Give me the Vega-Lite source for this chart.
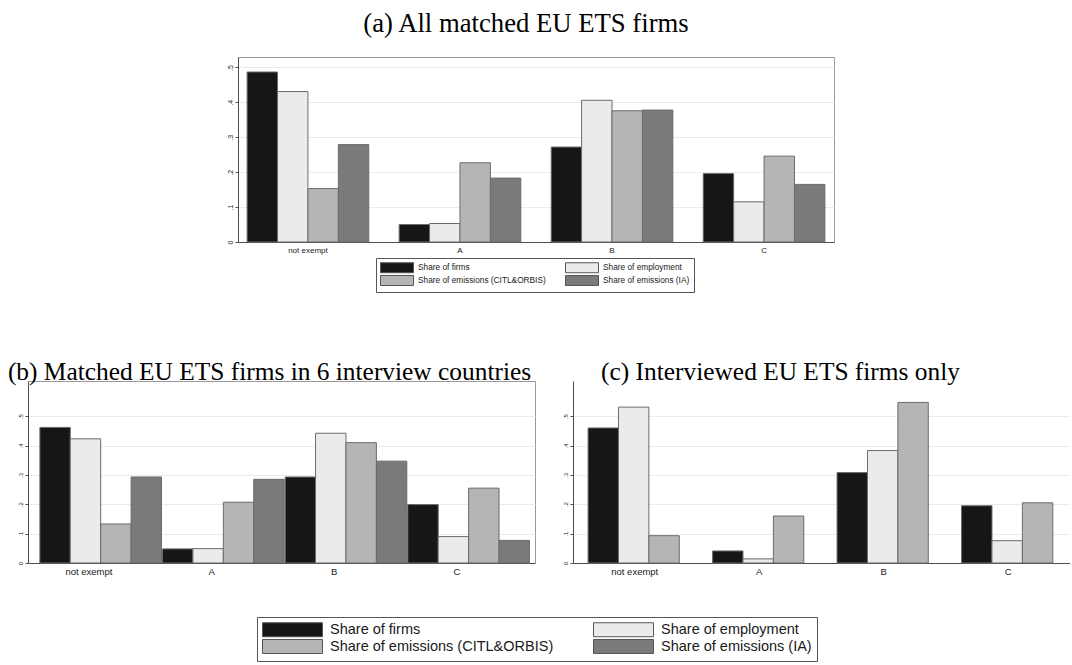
{
  "$schema": "https://vega.github.io/schema/vega-lite/v6.json",
  "background": "white",
  "padding": {"left": 7, "top": 10, "right": 0, "bottom": 0},
  "datasets": {
    "a": [
      {"group": "not exempt", "series": "Share of firms", "value": 0.487},
      {"group": "not exempt", "series": "Share of employment", "value": 0.431},
      {"group": "not exempt", "series": "Share of emissions (CITL&ORBIS)", "value": 0.153},
      {"group": "not exempt", "series": "Share of emissions (IA)", "value": 0.279},
      {"group": "A", "series": "Share of firms", "value": 0.050},
      {"group": "A", "series": "Share of employment", "value": 0.053},
      {"group": "A", "series": "Share of emissions (CITL&ORBIS)", "value": 0.227},
      {"group": "A", "series": "Share of emissions (IA)", "value": 0.183},
      {"group": "B", "series": "Share of firms", "value": 0.272},
      {"group": "B", "series": "Share of employment", "value": 0.406},
      {"group": "B", "series": "Share of emissions (CITL&ORBIS)", "value": 0.376},
      {"group": "B", "series": "Share of emissions (IA)", "value": 0.378},
      {"group": "C", "series": "Share of firms", "value": 0.196},
      {"group": "C", "series": "Share of employment", "value": 0.115},
      {"group": "C", "series": "Share of emissions (CITL&ORBIS)", "value": 0.246},
      {"group": "C", "series": "Share of emissions (IA)", "value": 0.165}
    ],
    "b": [
      {"group": "not exempt", "series": "Share of firms", "value": 0.462},
      {"group": "not exempt", "series": "Share of employment", "value": 0.423},
      {"group": "not exempt", "series": "Share of emissions (CITL&ORBIS)", "value": 0.133},
      {"group": "not exempt", "series": "Share of emissions (IA)", "value": 0.293},
      {"group": "A", "series": "Share of firms", "value": 0.048},
      {"group": "A", "series": "Share of employment", "value": 0.049},
      {"group": "A", "series": "Share of emissions (CITL&ORBIS)", "value": 0.207},
      {"group": "A", "series": "Share of emissions (IA)", "value": 0.285},
      {"group": "B", "series": "Share of firms", "value": 0.293},
      {"group": "B", "series": "Share of employment", "value": 0.442},
      {"group": "B", "series": "Share of emissions (CITL&ORBIS)", "value": 0.410},
      {"group": "B", "series": "Share of emissions (IA)", "value": 0.347},
      {"group": "C", "series": "Share of firms", "value": 0.199},
      {"group": "C", "series": "Share of employment", "value": 0.090},
      {"group": "C", "series": "Share of emissions (CITL&ORBIS)", "value": 0.255},
      {"group": "C", "series": "Share of emissions (IA)", "value": 0.077}
    ],
    "c": [
      {"group": "not exempt", "series": "Share of firms", "value": 0.460},
      {"group": "not exempt", "series": "Share of employment", "value": 0.531},
      {"group": "not exempt", "series": "Share of emissions (CITL&ORBIS)", "value": 0.093},
      {"group": "A", "series": "Share of firms", "value": 0.041},
      {"group": "A", "series": "Share of employment", "value": 0.014},
      {"group": "A", "series": "Share of emissions (CITL&ORBIS)", "value": 0.160},
      {"group": "B", "series": "Share of firms", "value": 0.308},
      {"group": "B", "series": "Share of employment", "value": 0.383},
      {"group": "B", "series": "Share of emissions (CITL&ORBIS)", "value": 0.547},
      {"group": "C", "series": "Share of firms", "value": 0.195},
      {"group": "C", "series": "Share of employment", "value": 0.076},
      {"group": "C", "series": "Share of emissions (CITL&ORBIS)", "value": 0.205}
    ]
  },
  "config": {
    "font": "Liberation Sans",
    "view": {"stroke": "#999999", "strokeWidth": 1},
    "title": {"font": "Liberation Serif", "fontWeight": "normal", "fontSize": 25.4, "color": "black", "anchor": "middle", "frame": "group"},
    "axis": {"domainColor": "#4d4d4d", "tickColor": "#4d4d4d", "labelColor": "#1a1a1a", "gridColor": "#ebebeb", "gridWidth": 1, "labelFont": "Liberation Sans"},
    "legend": {"labelFont": "Liberation Sans", "labelColor": "#1a1a1a", "labelLimit": 400}
  },
  "resolve": {"scale": {"color": "independent"}},
  "spacing": 66,
  "vconcat": [
    {
      "spacing": 0,
      "hconcat": [
        {
          "data": {"values": []},
          "width": 189,
          "height": 10,
          "view": {"stroke": null},
          "mark": {"type": "point", "opacity": 0},
          "encoding": {}
        },
        {
          "data": {"name": "a"},
          "title": {"text": "(a) All matched EU ETS firms", "offset": 19, "dx": -10, "fontSize": 26.7},
          "width": 596,
          "height": 185,
          "mark": {"type": "bar", "stroke": "#6b6b6b", "strokeWidth": 1},
          "encoding": {
            "x": {"field": "group", "type": "nominal", "sort": ["not exempt", "A", "B", "C"],
                  "scale": {"paddingInner": 0.2, "paddingOuter": 0.06},
                  "axis": {"title": null, "labelAngle": 0, "ticks": false, "labelFontSize": 8, "labelPadding": 4}},
            "xOffset": {"field": "series", "type": "nominal",
                  "sort": ["Share of firms", "Share of employment", "Share of emissions (CITL&ORBIS)", "Share of emissions (IA)"],
                  "scale": {"paddingInner": 0, "paddingOuter": 0}},
            "y": {"field": "value", "type": "quantitative", "scale": {"domain": [0, 0.53], "nice": false},
                  "axis": {"title": null, "values": [0, 0.1, 0.2, 0.3, 0.4, 0.5], "minExtent": 20,
                           "labelExpr": "datum.value == 0 ? '0' : replace(format(datum.value, '.1f'), '0.', '.')",
                           "labelAngle": -90, "labelFontSize": 7, "tickSize": 3, "labelPadding": 2, "grid": true}},
            "color": {"field": "series", "type": "nominal",
                  "scale": {"domain": ["Share of firms", "Share of employment", "Share of emissions (CITL&ORBIS)", "Share of emissions (IA)"],
                            "range": ["#161616", "#ebebeb", "#b5b5b5", "#7a7a7a"]},
                  "legend": {"title": null, "orient": "none", "legendX": 348, "legendY": 201, "columns": 2, "direction": "horizontal",
                             "symbolType": "M-1,-1H5.6V1H-1Z", "symbolSize": 100,
                             "symbolStrokeColor": "#555555", "symbolStrokeWidth": 1, "symbolOpacity": 1,
                             "labelFontSize": 8.3, "labelOffset": 27, "columnPadding": 17, "rowPadding": -4,
                             "strokeColor": "#555555", "padding": 4, "fillColor": "white"}}
          }
        }
      ]
    },
    {
      "spacing": 26,
      "hconcat": [
        {
          "data": {"name": "b"},
          "title": {"text": "(b) Matched EU ETS firms in 6 interview countries", "offset": -4, "dx": -12},
          "width": 507,
          "height": 182,
          "mark": {"type": "bar", "stroke": "#6b6b6b", "strokeWidth": 1},
          "encoding": {
            "x": {"field": "group", "type": "nominal", "sort": ["not exempt", "A", "B", "C"],
                  "scale": {"paddingInner": 0.2, "paddingOuter": 0.167, "align": 0.29},
                  "axis": {"title": null, "labelAngle": 0, "ticks": false, "labelFontSize": 9.5, "labelPadding": 3}},
            "xOffset": {"field": "series", "type": "nominal",
                  "sort": ["Share of firms", "Share of employment", "Share of emissions (CITL&ORBIS)", "Share of emissions (IA)"],
                  "scale": {"paddingInner": 0, "paddingOuter": 0}},
            "y": {"field": "value", "type": "quantitative", "scale": {"domain": [0, 0.62], "nice": false},
                  "axis": {"title": null, "values": [0, 0.1, 0.2, 0.3, 0.4, 0.5],
                           "labelExpr": "datum.value == 0 ? '0' : replace(format(datum.value, '.1f'), '0.', '.')",
                           "labelAngle": -90, "labelFontSize": 6, "tickSize": 3, "labelPadding": 2, "grid": true}},
            "color": {"field": "series", "type": "nominal",
                  "scale": {"domain": ["Share of firms", "Share of employment", "Share of emissions (CITL&ORBIS)", "Share of emissions (IA)"],
                            "range": ["#161616", "#ebebeb", "#b5b5b5", "#7a7a7a"]},
                  "legend": {"title": null, "orient": "none", "legendX": 229, "legendY": 236, "columns": 2, "direction": "horizontal",
                             "symbolType": "M-1,-1H7.57V1H-1Z", "symbolSize": 196,
                             "symbolStrokeColor": "#555555", "symbolStrokeWidth": 1, "symbolOpacity": 1,
                             "labelFontSize": 14.5, "labelOffset": 53, "columnPadding": 37, "rowPadding": -3,
                             "strokeColor": "#555555", "padding": 5, "fillColor": "white"}}
          }
        },
        {
          "data": {"name": "c"},
          "title": {"text": "(c) Interviewed EU ETS firms only", "offset": -4, "dx": -41},
          "width": 497,
          "height": 182,
          "view": {"stroke": null},
          "mark": {"type": "bar", "stroke": "#6b6b6b", "strokeWidth": 1},
          "encoding": {
            "x": {"field": "group", "type": "nominal", "sort": ["not exempt", "A", "B", "C"],
                  "scale": {"paddingInner": 0.25, "paddingOuter": 0.121},
                  "axis": {"title": null, "labelAngle": 0, "ticks": false, "labelFontSize": 9.5, "labelPadding": 3}},
            "xOffset": {"field": "series", "type": "nominal",
                  "sort": ["Share of firms", "Share of employment", "Share of emissions (CITL&ORBIS)"],
                  "scale": {"paddingInner": 0, "paddingOuter": 0}},
            "y": {"field": "value", "type": "quantitative", "scale": {"domain": [0, 0.62], "nice": false},
                  "axis": {"title": null, "values": [0, 0.1, 0.2, 0.3, 0.4, 0.5],
                           "labelExpr": "datum.value == 0 ? '0' : replace(format(datum.value, '.1f'), '0.', '.')",
                           "labelAngle": -90, "labelFontSize": 6, "tickSize": 3, "labelPadding": 2, "grid": true}},
            "color": {"field": "series", "type": "nominal",
                  "scale": {"domain": ["Share of firms", "Share of employment", "Share of emissions (CITL&ORBIS)", "Share of emissions (IA)"],
                            "range": ["#161616", "#ebebeb", "#b5b5b5", "#7a7a7a"]},
                  "legend": null}
          }
        }
      ]
    }
  ]
}
